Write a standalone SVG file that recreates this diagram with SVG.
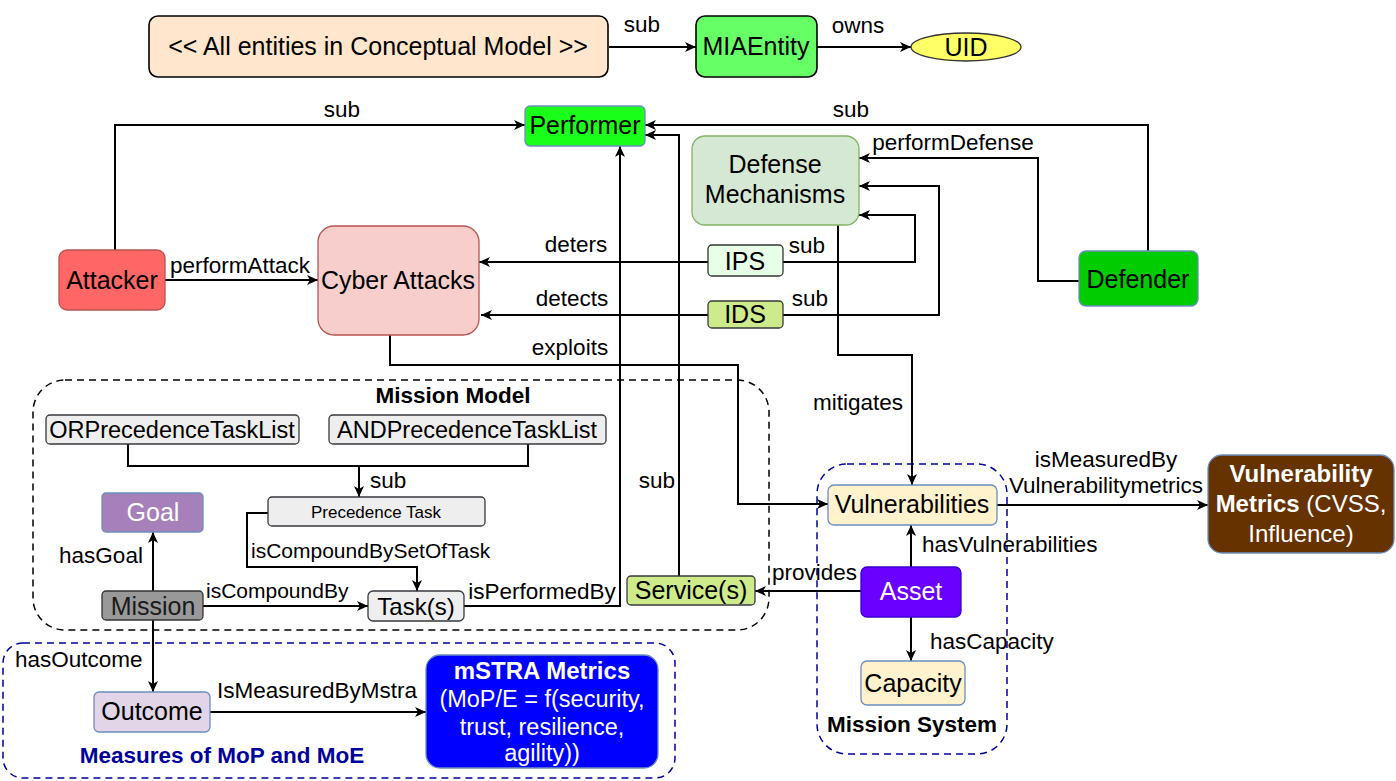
<svg xmlns="http://www.w3.org/2000/svg" width="1396" height="781" viewBox="0 0 1396 781">
<style>
text{font-family:"Liberation Sans",Arial,Helvetica,sans-serif;fill:#000}
.n{font-size:25px;text-anchor:middle}
.l{font-size:22.5px}
.m{text-anchor:middle}
.b{font-weight:bold}
.w{fill:#fff}
.c{fill:none;stroke:#000;stroke-width:2;marker-end:url(#arr)}
.p{fill:none;stroke:#000;stroke-width:2}
.box{stroke-width:1.3}
</style>
<defs>
<marker id="arr" markerWidth="12" markerHeight="10" refX="11" refY="5" orient="auto" markerUnits="userSpaceOnUse">
<path d="M0,0 L11,5 L0,10 L3,5 Z" fill="#000"/>
</marker>
</defs>
<rect width="1396" height="781" fill="#fff"/>

<g id="containers">
<g id="mission-model">
<rect x="33" y="380" width="736" height="250" rx="32" fill="none" stroke="#000" stroke-width="1.5" stroke-dasharray="7 5"/>
<text x="453" y="403" class="m b" style="font-size:22.5px">Mission Model</text>
</g>
<g id="measures">
<rect x="3" y="643" width="672" height="135" rx="20" fill="none" stroke="#00009c" stroke-width="1.5" stroke-dasharray="7 5"/>
<text x="222" y="763" class="m b" style="font-size:22.5px;fill:#00009c">Measures of MoP and MoE</text>
</g>
<g id="mission-system">
<rect x="817" y="464" width="190" height="290" rx="30" fill="none" stroke="#00009c" stroke-width="1.5" stroke-dasharray="7 5"/>
<text x="912" y="732" class="m b" style="font-size:22.5px">Mission System</text>
</g>
</g>

<g id="connectors">
<path class="c" d="M609,47 H696"/>
<path class="c" d="M817,47 H911"/>
<path class="c" d="M115,250 V125 H525"/>
<path class="c" d="M1148,251 V125 H645"/>
<path class="c" d="M679,576 V135 H645"/>
<path class="c" d="M464,606 H620 V146"/>
<path class="c" d="M165,280 H318"/>
<path class="c" d="M708,262 H479"/>
<path class="c" d="M708,315 H481"/>
<path class="c" d="M783,262 H915 V215 H859"/>
<path class="c" d="M783,315 H939 V186 H859"/>
<path class="c" d="M1079,281 H1038 V158 H859"/>
<path class="c" d="M390,335 V365 H738 V504 H828"/>
<path class="c" d="M838,225 V355 H912 V485"/>
<path class="p" d="M128,444 V466 H528 V444"/>
<path class="c" d="M359,466 V497"/>
<path class="c" d="M268,513 H247 V567 H417 V591"/>
<path class="c" d="M203,606 H368"/>
<path class="c" d="M153,591 V532"/>
<path class="c" d="M153,620 V692"/>
<path class="c" d="M210,712 H426"/>
<path class="c" d="M997,505 H1208"/>
<path class="c" d="M911,567 V525"/>
<path class="c" d="M911,617 V661"/>
<path class="c" d="M861,591 H755"/>
<g id="connector-labels">
<text x="642" y="32" class="l m">sub</text>
<text x="858" y="33" class="l m">owns</text>
<text x="342" y="117" class="l m">sub</text>
<text x="851" y="117" class="l m">sub</text>
<text x="657" y="488" class="l m">sub</text>
<text x="542" y="599" class="l m">isPerformedBy</text>
<text x="240" y="273" class="l m">performAttack</text>
<text x="576" y="252" class="l m">deters</text>
<text x="572" y="306" class="l m">detects</text>
<text x="807" y="253" class="l m">sub</text>
<text x="810" y="306" class="l m">sub</text>
<text x="953" y="150" class="l m">performDefense</text>
<text x="570" y="355" class="l m">exploits</text>
<text x="858" y="410" class="l m">mitigates</text>
<text x="370" y="488" class="l">sub</text>
<text x="251" y="558" class="l" style="font-size:21px">isCompoundBySetOfTask</text>
<text x="206" y="598" class="l" style="font-size:21px">isCompoundBy</text>
<text x="101" y="563" class="l m">hasGoal</text>
<text x="15" y="667" class="l">hasOutcome</text>
<text x="217" y="698" class="l">IsMeasuredByMstra</text>
<text x="1106" y="467" class="l m">isMeasuredBy</text>
<text x="1106" y="493" class="l m">Vulnerabilitymetrics</text>
<text x="922" y="552" class="l">hasVulnerabilities</text>
<text x="930" y="649" class="l">hasCapacity</text>
<text x="857" y="580" class="l" text-anchor="end">provides</text>
</g>
</g>

<g id="all-entities">
<rect x="149" y="16" width="459" height="61" rx="9" fill="#ffe6cc" stroke="#000" stroke-width="1.6"/>
<text x="378" y="55" class="n">&lt;&lt; All entities in Conceptual Model &gt;&gt;</text>
</g>
<g id="miaentity">
<rect x="696" y="16" width="121" height="61" rx="9" fill="#66ff66" stroke="#000" stroke-width="1.6"/>
<text x="756" y="55" class="n">MIAEntity</text>
</g>
<g id="uid">
<ellipse cx="966" cy="47" rx="55" ry="14" fill="#ffff66" stroke="#333" class="box"/>
<text x="966" y="56" class="n">UID</text>
</g>
<g id="performer">
<rect x="525" y="106" width="120" height="40" rx="5" fill="#19ff19" stroke="#6c8ebf" class="box"/>
<text x="585" y="134" class="n">Performer</text>
</g>
<g id="defense-mechanisms">
<rect x="692" y="136" width="167" height="89" rx="13" fill="#d5e8d4" stroke="#82b366" class="box"/>
<text x="775" y="173" class="n">Defense</text>
<text x="775" y="203" class="n">Mechanisms</text>
</g>
<g id="attacker">
<rect x="59" y="250" width="106" height="60" rx="8" fill="#ff6666" stroke="#b85450" class="box"/>
<text x="112" y="289" class="n">Attacker</text>
</g>
<g id="cyber-attacks">
<rect x="318" y="226" width="161" height="109" rx="16" fill="#f8cecc" stroke="#b85450" class="box"/>
<text x="398" y="289" class="n">Cyber Attacks</text>
</g>
<g id="ips">
<rect x="708" y="245" width="75" height="31" rx="4" fill="#e6ffe6" stroke="#333" class="box"/>
<text x="745" y="270" class="n">IPS</text>
</g>
<g id="ids">
<rect x="708" y="301" width="75" height="27" rx="4" fill="#cdeb8b" stroke="#36393d" class="box"/>
<text x="745" y="323" class="n">IDS</text>
</g>
<g id="defender">
<rect x="1079" y="251" width="119" height="55" rx="7" fill="#00cc00" stroke="#6c8ebf" class="box"/>
<text x="1138" y="288" class="n">Defender</text>
</g>
<g id="or-list">
<rect x="46" y="415" width="253" height="29" rx="4" fill="#eeeeee" stroke="#36393d" class="box"/>
<text x="172" y="438" class="m" style="font-size:23.5px">ORPrecedenceTaskList</text>
</g>
<g id="and-list">
<rect x="329" y="415" width="277" height="29" rx="4" fill="#eeeeee" stroke="#36393d" class="box"/>
<text x="467" y="438" class="m" style="font-size:23.5px">ANDPrecedenceTaskList</text>
</g>
<g id="precedence-task">
<rect x="268" y="497" width="217" height="29" rx="4" fill="#eeeeee" stroke="#36393d" class="box"/>
<text x="376" y="518" class="m" style="font-size:17px">Precedence Task</text>
</g>
<g id="goal">
<rect x="102" y="493" width="101" height="39" rx="4" fill="#a680b8" stroke="#6c8ebf" class="box"/>
<text x="153" y="521" class="n w">Goal</text>
</g>
<g id="mission">
<rect x="102" y="591" width="101" height="29" rx="4" fill="#999999" stroke="#333" class="box"/>
<text x="153" y="615" class="n" style="fill:#1a1a1a">Mission</text>
</g>
<g id="tasks">
<rect x="368" y="591" width="96" height="30" rx="5" fill="#eeeeee" stroke="#36393d" class="box"/>
<text x="416" y="615" class="n" style="font-size:24px">Task(s)</text>
</g>
<g id="services">
<rect x="627" y="576" width="128" height="29" rx="4" fill="#cdeb8b" stroke="#36393d" class="box"/>
<text x="691" y="599" class="n">Service(s)</text>
</g>
<g id="outcome">
<rect x="94" y="692" width="116" height="40" rx="5" fill="#e1d5e7" stroke="#6c8ebf" class="box"/>
<text x="152" y="720" class="n">Outcome</text>
</g>
<g id="mstra-metrics">
<rect x="426" y="655" width="232" height="113" rx="14" fill="#0000ff" stroke="#6c8ebf" class="box"/>
<text x="542" y="679" class="m b w" style="font-size:24px">mSTRA Metrics</text>
<text x="542" y="707" class="m w" style="font-size:23.5px">(MoP/E = f(security,</text>
<text x="542" y="735" class="m w" style="font-size:23.5px">trust, resilience,</text>
<text x="542" y="761" class="m w" style="font-size:23.5px">agility))</text>
</g>
<g id="vulnerabilities">
<rect x="828" y="485" width="169" height="40" rx="6" fill="#fff2cc" stroke="#6c8ebf" class="box"/>
<text x="912" y="513" class="n">Vulnerabilities</text>
</g>
<g id="asset">
<rect x="861" y="567" width="100" height="50" rx="6" fill="#6a00ff" stroke="#3700cc" class="box"/>
<text x="911" y="600" class="n w">Asset</text>
</g>
<g id="capacity">
<rect x="861" y="661" width="104" height="44" rx="6" fill="#fff2cc" stroke="#6c8ebf" class="box"/>
<text x="913" y="692" class="n">Capacity</text>
</g>
<g id="vulnerability-metrics">
<rect x="1208" y="455" width="186" height="98" rx="14" fill="#663300" stroke="#6c8ebf" class="box"/>
<text x="1301" y="482" class="m b w" style="font-size:24px">Vulnerability</text>
<text x="1301" y="512" class="m w" style="font-size:24px"><tspan font-weight="bold">Metrics</tspan> (CVSS,</text>
<text x="1301" y="542" class="m w" style="font-size:24px">Influence)</text>
</g>
</svg>
